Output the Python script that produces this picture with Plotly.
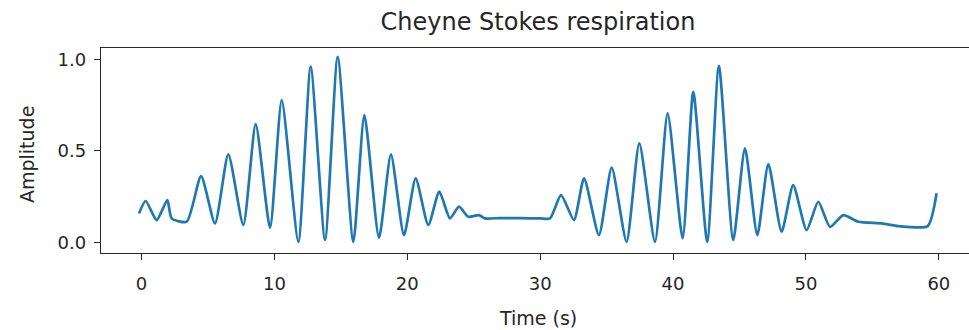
import plotly.graph_objects as go

# Respiration trace: time (s) and normalised amplitude at the turning points
time_s = [-0.19, 0.31, 1.14, 1.94, 2.27, 3.4, 4.48, 5.53, 6.53, 7.66, 8.59,
          9.67, 10.55, 11.8, 12.73, 13.81, 14.76, 15.94, 16.77, 17.87, 18.77,
          19.75, 20.63, 21.58, 22.41, 23.21, 23.89, 24.59, 25.4, 25.85,
          27.0, 28.5, 30.0, 30.74, 31.57, 32.54, 33.3, 34.42, 35.38, 36.5,
          37.46, 38.64, 39.59, 40.72, 41.52, 42.57, 43.45, 44.53, 45.41,
          46.34, 47.17, 48.17, 49.04, 50.05, 50.93, 51.81, 52.81, 53.94,
          55.7, 56.95, 59.16, 59.83]
amplitude = [0.158, 0.226, 0.122, 0.231, 0.131, 0.113, 0.362, 0.104, 0.481, 0.095, 0.646,
             0.080, 0.778, 0.003, 0.960, 0.013, 1.014, 0.003, 0.696, 0.025, 0.481,
             0.040, 0.350, 0.095, 0.277, 0.131, 0.195, 0.140, 0.149, 0.131,
             0.133, 0.132, 0.131, 0.131, 0.258, 0.122, 0.350, 0.040, 0.408, 0.003,
             0.541, 0.003, 0.705, 0.022, 0.823, 0.003, 0.965, 0.013, 0.514,
             0.040, 0.428, 0.058, 0.313, 0.067, 0.222, 0.085, 0.149, 0.113,
             0.104, 0.089, 0.089, 0.268]

y_ticks = [0.0, 0.5, 1.0]
x_ticks = [0, 10, 20, 30, 40, 50, 60]

W, H = 969, 330
L, T, B = 101, 48, 77
plot_w = W - L
plot_h = H - T - B

FONT = "DejaVu Sans"
INK = "#262626"

fig = go.Figure()
fig.add_trace(go.Scatter(
    x=time_s, y=amplitude, mode="lines",
    line=dict(color="#1f77b4", width=2.7, shape="spline", smoothing=0.6),
    showlegend=False, hoverinfo="skip",
))

fig.update_layout(
    width=W, height=H,
    margin=dict(l=L, r=0, t=T, b=B, pad=0),
    paper_bgcolor="white", plot_bgcolor="white",
    font=dict(family=FONT, color=INK, size=18),
    title=dict(text="Cheyne Stokes respiration", font=dict(size=24, color=INK),
               xref="container", x=538 / W, xanchor="center",
               yref="container", y=1 - 22 / H, yanchor="middle"),
    xaxis=dict(range=[-3.05, 62.27], tickvals=x_ticks, ticks="outside",
               ticklen=6, tickwidth=1.2, tickcolor=INK, showgrid=False,
               zeroline=False, showline=True, linecolor=INK, linewidth=1.3,
               mirror=True, tickfont=dict(size=18), ticklabelstandoff=8),
    yaxis=dict(range=[-0.058, 1.062], tickvals=y_ticks, tickformat=".1f",
               ticks="outside", ticklen=6, tickwidth=1.2, tickcolor=INK,
               showgrid=False, zeroline=False, showline=True, linecolor=INK,
               linewidth=1.3, mirror=False, tickfont=dict(size=18),
               ticklabelstandoff=4),
    annotations=[
        dict(text="Time (s)", xref="paper", yref="paper",
             x=(538 - L) / plot_w, y=(H - B - 318) / plot_h,
             xanchor="center", yanchor="middle", showarrow=False,
             font=dict(size=19, color=INK)),
        dict(text="Amplitude", xref="paper", yref="paper",
             x=(27 - L) / plot_w, y=(H - B - 155) / plot_h, textangle=-90,
             xanchor="center", yanchor="middle", showarrow=False,
             font=dict(size=19, color=INK)),
    ],
)

fig.write_html("out.html")
